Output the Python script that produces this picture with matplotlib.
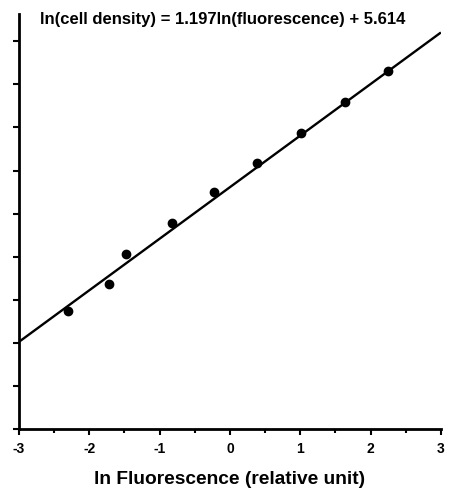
import matplotlib
matplotlib.use("Agg")
import matplotlib.pyplot as plt
import numpy as np
from matplotlib.ticker import MultipleLocator, NullFormatter

ln_fluor = [-2.30, -1.72, -1.48, -0.82, -0.23, 0.38, 1.01, 1.64, 2.25]
ln_density = [2.73, 3.36, 4.07, 4.78, 5.49, 6.18, 6.88, 7.59, 8.30]
slope = 1.197
intercept = 5.614
x_ticks = [-3, -2, -1, 0, 1, 2, 3]
equation = "ln(cell density) = 1.197ln(fluorescence) + 5.614"
xlabel = "ln Fluorescence (relative unit)"

plt.rcParams['font.family'] = ['Liberation Sans', 'DejaVu Sans']

fig = plt.figure(figsize=(4.49, 4.89), dpi=100)
ax = fig.add_axes([0.0423, 0.1207, 0.982 - 0.0423, 0.969 - 0.1207])

xl = np.array([-3, 3])
ax.plot(xl, slope * xl + intercept, color='black', lw=1.7, solid_capstyle='butt')
ax.plot(ln_fluor, ln_density, 'o', color='black', ms=6)

ax.set_xlim(-3, 3)
ax.set_ylim(0, 9.63)
ax.set_xticks(x_ticks)
ax.set_xticklabels([str(t) for t in x_ticks], fontweight='bold', fontsize=10)
ax.xaxis.set_minor_locator(MultipleLocator(0.5))
ax.yaxis.set_major_locator(MultipleLocator(1))
ax.yaxis.set_major_formatter(NullFormatter())
ax.tick_params(axis='both', which='major', direction='out', length=4, width=1.5)
ax.tick_params(axis='x', which='minor', direction='out', length=3, width=1.5)
ax.tick_params(axis='x', pad=5)
for s in ['top', 'right']:
    ax.spines[s].set_visible(False)
for s in ['left', 'bottom']:
    ax.spines[s].set_linewidth(2)

ax.set_xlabel(xlabel, fontsize=13.8, fontweight='bold', labelpad=10.5)
ax.text(0.05, 0.99, equation, transform=ax.transAxes, fontsize=12, fontweight='bold', va='center', ha='left')

fig.savefig("out.png", dpi=100)
